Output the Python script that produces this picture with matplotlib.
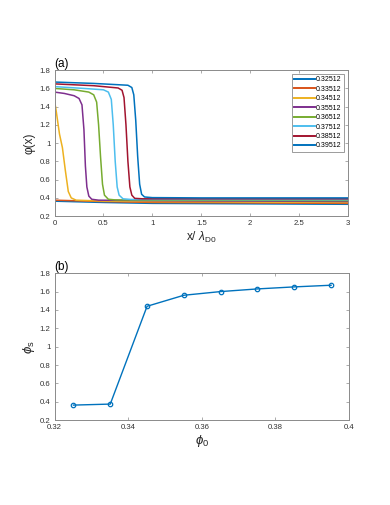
import matplotlib
matplotlib.use('Agg')
import matplotlib.pyplot as plt

plt.rcParams['font.family'] = ['Liberation Sans', 'DejaVu Sans']
plt.rcParams['mathtext.fontset'] = 'custom'
plt.rcParams['mathtext.it'] = 'Liberation Sans:italic'
plt.rcParams['mathtext.rm'] = 'Liberation Sans'

# bulk values used in the legend / panel (b)
phi0 = [0.32512, 0.33512, 0.34512, 0.35512, 0.36512, 0.37512, 0.38512, 0.39512]
phi_s = [0.364, 0.375, 1.44, 1.56, 1.60, 1.629, 1.651, 1.669]

# profiles phi(x)
x_profiles = [
    [0, 0.5, 1.0, 3.0],
    [0, 0.5, 1.0, 3.0],
    [0, 0.01, 0.03, 0.05, 0.08, 0.11, 0.14, 0.17, 0.22, 0.5, 1.0, 3.0],
    [0, 0.1, 0.2, 0.25, 0.28, 0.30, 0.315, 0.33, 0.35, 0.38, 0.45, 1.0, 3.0],
    [0, 0.2, 0.35, 0.40, 0.43, 0.45, 0.47, 0.49, 0.51, 0.55, 0.62, 1.0, 3.0],
    [0, 0.3, 0.5, 0.55, 0.58, 0.60, 0.62, 0.64, 0.66, 0.70, 0.78, 1.0, 3.0],
    [0, 0.4, 0.65, 0.69, 0.71, 0.73, 0.75, 0.77, 0.79, 0.82, 0.90, 1.2, 3.0],
    [0, 0.4, 0.75, 0.79, 0.81, 0.83, 0.85, 0.87, 0.89, 0.92, 1.0, 1.5, 3.0],
]
y_profiles = [
    [0.364, 0.35, 0.34, 0.33],
    [0.375, 0.36, 0.35, 0.34],
    [1.44, 1.40, 1.25, 1.10, 0.95, 0.70, 0.47, 0.40, 0.375, 0.365, 0.36, 0.35],
    [1.56, 1.545, 1.52, 1.49, 1.42, 1.15, 0.75, 0.52, 0.42, 0.385, 0.375, 0.37, 0.36],
    [1.60, 1.585, 1.56, 1.53, 1.45, 1.20, 0.85, 0.55, 0.43, 0.385, 0.378, 0.375, 0.37],
    [1.62, 1.60, 1.585, 1.56, 1.48, 1.20, 0.80, 0.52, 0.43, 0.39, 0.383, 0.382, 0.38],
    [1.65, 1.63, 1.605, 1.58, 1.50, 1.20, 0.80, 0.52, 0.43, 0.395, 0.39, 0.39, 0.39],
    [1.67, 1.655, 1.635, 1.61, 1.53, 1.25, 0.85, 0.55, 0.44, 0.41, 0.403, 0.40, 0.40],
]

colors = ['#0072BD', '#D95319', '#EDB120', '#7E2F8E', '#77AC30', '#4DBEEE', '#A2142F', '#0072BD']
axcol = '#8a8a8a'


def style(ax):
    for s in ax.spines.values():
        s.set_color(axcol)
        s.set_linewidth(0.7)
    ax.tick_params(direction='in', length=2.5, width=0.5, colors=axcol,
                   labelsize=5.6, top=True, right=True, pad=3)
    for lab in ax.get_xticklabels() + ax.get_yticklabels():
        lab.set_color('#333333')


fig = plt.figure(figsize=(3.9, 5.05), dpi=100)

# (a)
ax1 = fig.add_axes([0.14, 0.572, 0.752, 0.289])
for xs, ys, c, p in zip(x_profiles, y_profiles, colors, phi0):
    ax1.plot(xs, ys, color=c, lw=1.1, label='%.5f' % p)
ax1.set_xlim(0, 3)
ax1.set_ylim(0.2, 1.8)
ax1.set_xticks([0, 0.5, 1, 1.5, 2, 2.5, 3])
ax1.set_xticklabels(['0', '0.5', '1', '1.5', '2', '2.5', '3'])
ax1.set_yticks([0.2, 0.4, 0.6, 0.8, 1.0, 1.2, 1.4, 1.6, 1.8])
ax1.set_yticklabels(['0.2', '0.4', '0.6', '0.8', '1', '1.2', '1.4', '1.6', '1.8'])
style(ax1)
ax1.set_xlabel(r'x/ $\lambda_{\rm D0}$', fontsize=8.5, color='#262626', labelpad=2)
ax1.set_ylabel('φ(x)', fontsize=8.5, color='#262626', labelpad=3)
ax1.text(0.0, 1.0, '(a)', transform=ax1.transAxes, fontsize=8.5, va='bottom', ha='left')
leg = ax1.legend(loc='upper right', fontsize=5, handlelength=3.0, handletextpad=0.2,
                 labelspacing=0.35, borderpad=0.3, fancybox=False, framealpha=1,
                 borderaxespad=0.6)
leg.get_frame().set_edgecolor('#8c8c8c')
leg.get_frame().set_linewidth(0.6)
for ln in leg.get_lines():
    ln.set_linewidth(1.4)

# (b)
ax2 = fig.add_axes([0.14, 0.168, 0.755, 0.291])
ax2.plot(phi0, phi_s, color='#0072BD', lw=1.0, marker='o', markersize=3.2,
         markerfacecolor='none', markeredgewidth=0.9)
ax2.set_xlim(0.32, 0.4)
ax2.set_ylim(0.2, 1.8)
ax2.set_xticks([0.32, 0.34, 0.36, 0.38, 0.4])
ax2.set_xticklabels(['0.32', '0.34', '0.36', '0.38', '0.4'])
ax2.set_yticks([0.2, 0.4, 0.6, 0.8, 1.0, 1.2, 1.4, 1.6, 1.8])
ax2.set_yticklabels(['0.2', '0.4', '0.6', '0.8', '1', '1.2', '1.4', '1.6', '1.8'])
style(ax2)
ax2.set_xlabel(r'$\phi_0$', fontsize=9.5, color='#262626', labelpad=1)
ax2.set_ylabel(r'$\phi_{\rm s}$', fontsize=9.5, color='#262626', labelpad=2)
ax2.text(0.0, 1.0, '(b)', transform=ax2.transAxes, fontsize=8.5, va='bottom', ha='left')

fig.savefig('out.png', dpi=100)
